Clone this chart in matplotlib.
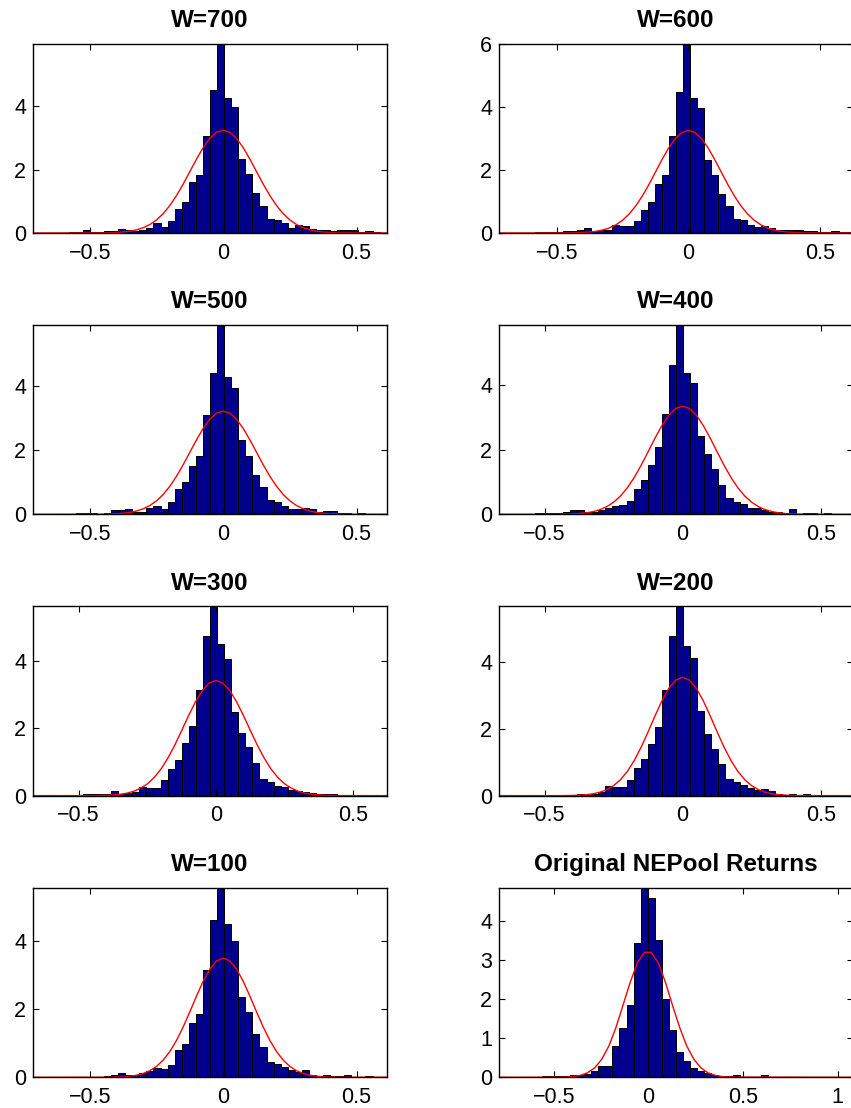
import numpy as np
import matplotlib
matplotlib.use("Agg")
import matplotlib.pyplot as plt
from matplotlib.ticker import FuncFormatter

plt.rcParams['font.family'] = ['Liberation Sans', 'DejaVu Sans']

# panel titles, in reading order (left, right per row)
titles = ["W=700", "W=600", "W=500", "W=400", "W=300", "W=200", "W=100",
          "Original NEPool Returns"]

# histogram range of each panel (50 equal bins between these)
hist_lo = [-0.712, -0.718, -0.712, -0.664, -0.665, -0.664, -0.712, -0.789]
hist_hi = [0.613, 0.624, 0.613, 0.616, 0.621, 0.616, 0.613, 1.080]

# bar heights (density), 50 bins per panel
h700 = [0.01, 0.01, 0.01, 0.0, 0.01, 0.02, 0.03, 0.085, 0.03, 0.04,
        0.05, 0.07, 0.14, 0.085, 0.05, 0.085, 0.16, 0.30, 0.19, 0.37,
        0.77, 0.97, 1.60, 1.82, 3.07, 4.50, 5.97, 4.24, 3.96, 2.32,
        1.86, 1.26, 0.84, 0.45, 0.40, 0.30, 0.17, 0.26, 0.21, 0.13,
        0.09, 0.08, 0.07, 0.09, 0.09, 0.08, 0.03, 0.06, 0.02, 0.01]
h600 = [0.01, 0.01, 0.01, 0.01, 0.01, 0.02, 0.03, 0.03, 0.03, 0.05,
        0.06, 0.08, 0.15, 0.07, 0.10, 0.10, 0.24, 0.22, 0.22, 0.37,
        0.72, 0.99, 1.56, 1.84, 3.08, 4.47, 6.02, 4.28, 3.98, 2.32,
        1.84, 1.23, 0.85, 0.45, 0.42, 0.27, 0.18, 0.21, 0.17, 0.10,
        0.10, 0.09, 0.08, 0.05, 0.07, 0.02, 0.02, 0.06, 0.02, 0.02]
h500 = [0.01, 0.01, 0.01, 0.02, 0.01, 0.01, 0.03, 0.04, 0.03, 0.02,
        0.03, 0.15, 0.15, 0.16, 0.06, 0.08, 0.20, 0.27, 0.18, 0.38,
        0.78, 1.01, 1.51, 1.82, 3.09, 4.42, 5.91, 4.29, 3.94, 2.33,
        1.81, 1.24, 0.85, 0.44, 0.37, 0.25, 0.17, 0.18, 0.21, 0.16,
        0.06, 0.11, 0.10, 0.03, 0.05, 0.02, 0.03, 0.02, 0.02, 0.02]
h400 = [0.01, 0.01, 0.01, 0.01, 0.02, 0.05, 0.03, 0.04, 0.03, 0.08,
        0.13, 0.13, 0.07, 0.08, 0.13, 0.21, 0.26, 0.29, 0.42, 0.79,
        1.06, 1.52, 2.07, 3.11, 4.62, 5.85, 4.37, 4.07, 2.43, 1.85,
        1.41, 0.91, 0.51, 0.38, 0.32, 0.21, 0.20, 0.13, 0.08, 0.06,
        0.03, 0.16, 0.01, 0.04, 0.04, 0.02, 0.03, 0.01, 0.01, 0.02]
h300 = [0.01, 0.01, 0.01, 0.01, 0.01, 0.01, 0.02, 0.04, 0.04, 0.04,
        0.04, 0.14, 0.06, 0.07, 0.12, 0.25, 0.23, 0.24, 0.47, 0.79,
        1.07, 1.55, 2.07, 3.13, 4.74, 5.61, 4.48, 4.06, 2.49, 1.85,
        1.43, 0.96, 0.49, 0.40, 0.29, 0.27, 0.17, 0.15, 0.12, 0.07,
        0.05, 0.06, 0.04, 0.02, 0.03, 0.01, 0.02, 0.01, 0.01, 0.01]
h200 = [0.0, 0.0, 0.0, 0.0, 0.01, 0.01, 0.01, 0.01, 0.02, 0.03,
        0.03, 0.06, 0.02, 0.04, 0.10, 0.29, 0.25, 0.25, 0.47, 0.84,
        1.09, 1.54, 2.07, 3.16, 4.80, 5.68, 4.48, 4.13, 2.54, 1.86,
        1.41, 0.94, 0.51, 0.41, 0.32, 0.24, 0.16, 0.21, 0.15, 0.06,
        0.01, 0.04, 0.01, 0.04, 0.01, 0.02, 0.01, 0.0, 0.0, 0.0]
h100 = [0.01, 0.02, 0.01, 0.0, 0.01, 0.01, 0.01, 0.01, 0.01, 0.01,
        0.04, 0.06, 0.12, 0.08, 0.07, 0.12, 0.19, 0.28, 0.24, 0.36,
        0.79, 0.97, 1.58, 1.85, 3.13, 4.60, 5.55, 4.48, 4.00, 2.35,
        1.92, 1.28, 0.90, 0.46, 0.38, 0.31, 0.22, 0.17, 0.20, 0.07,
        0.04, 0.07, 0.05, 0.03, 0.06, 0.02, 0.01, 0.03, 0.02, 0.01]
h_orig = [0.02, 0.02, 0.01, 0.01, 0.02, 0.02, 0.03, 0.03, 0.03, 0.04,
          0.06, 0.07, 0.08, 0.15, 0.30, 0.30, 0.79, 1.26, 1.85, 3.45,
          4.85, 4.60, 3.52, 2.00, 1.22, 0.66, 0.41, 0.24, 0.16, 0.12,
          0.05, 0.04, 0.03, 0.05, 0.02, 0.02, 0.01, 0.05, 0.01, 0.01,
          0.01, 0.01, 0.01, 0.01, 0.01, 0.01, 0.01, 0.01, 0.01, 0.01]
heights = [h700, h600, h500, h400, h300, h200, h100, h_orig]

# fitted normal curve (red)
curve_x = [-0.8, -0.45, -0.425, -0.4, -0.375, -0.35, -0.325, -0.3, -0.275,
           -0.25, -0.225, -0.2, -0.175, -0.15, -0.125, -0.1, -0.075, -0.05,
           -0.025, 0.0, 0.025, 0.05, 0.075, 0.1, 0.125, 0.15, 0.175, 0.2,
           0.225, 0.25, 0.275, 0.3, 0.325, 0.35, 0.375, 0.4, 0.425, 0.45, 0.8]
c700 = [0.0, 0.004, 0.008, 0.016, 0.031, 0.057, 0.099, 0.167, 0.267, 0.412,
        0.610, 0.866, 1.180, 1.542, 1.935, 2.329, 2.691, 2.983, 3.174, 3.240,
        3.174, 2.983, 2.691, 2.329, 1.935, 1.542, 1.180, 0.866, 0.610, 0.412,
        0.267, 0.167, 0.099, 0.057, 0.031, 0.016, 0.008, 0.004, 0.0]
c600 = [0.0, 0.004, 0.008, 0.016, 0.030, 0.055, 0.096, 0.162, 0.261, 0.405,
        0.602, 0.858, 1.173, 1.538, 1.935, 2.335, 2.702, 2.999, 3.193, 3.260,
        3.193, 2.999, 2.702, 2.335, 1.935, 1.538, 1.173, 0.858, 0.602, 0.405,
        0.261, 0.162, 0.096, 0.055, 0.030, 0.016, 0.008, 0.004, 0.0]
c500 = [0.0, 0.004, 0.009, 0.018, 0.033, 0.060, 0.103, 0.172, 0.274, 0.421,
        0.619, 0.875, 1.188, 1.547, 1.936, 2.325, 2.681, 2.968, 3.155, 3.220,
        3.155, 2.968, 2.681, 2.325, 1.936, 1.547, 1.188, 0.875, 0.619, 0.421,
        0.274, 0.172, 0.103, 0.060, 0.033, 0.018, 0.009, 0.004, 0.0]
c400 = [0.0, 0.003, 0.006, 0.012, 0.024, 0.045, 0.082, 0.142, 0.235, 0.373,
        0.566, 0.821, 1.141, 1.517, 1.931, 2.352, 2.742, 3.059, 3.268, 3.340,
        3.268, 3.059, 2.742, 2.352, 1.931, 1.517, 1.141, 0.821, 0.566, 0.373,
        0.235, 0.142, 0.082, 0.045, 0.024, 0.012, 0.006, 0.003, 0.0]
c300 = [0.0, 0.002, 0.005, 0.010, 0.020, 0.039, 0.072, 0.128, 0.216, 0.348,
        0.537, 0.791, 1.114, 1.499, 1.927, 2.367, 2.777, 3.112, 3.333, 3.410,
        3.333, 3.112, 2.777, 2.367, 1.927, 1.499, 1.114, 0.791, 0.537, 0.348,
        0.216, 0.128, 0.072, 0.039, 0.020, 0.010, 0.005, 0.002, 0.0]
c200 = [0.0, 0.001, 0.003, 0.006, 0.014, 0.028, 0.054, 0.101, 0.178, 0.299,
        0.479, 0.729, 1.056, 1.457, 1.913, 2.390, 2.841, 3.216, 3.463, 3.550,
        3.463, 3.216, 2.841, 2.390, 1.913, 1.457, 1.056, 0.729, 0.479, 0.299,
        0.178, 0.101, 0.054, 0.028, 0.014, 0.006, 0.003, 0.001, 0.0]
c100 = [0.0, 0.002, 0.003, 0.008, 0.016, 0.032, 0.061, 0.112, 0.193, 0.319,
        0.503, 0.755, 1.081, 1.475, 1.919, 2.380, 2.814, 3.171, 3.408, 3.490,
        3.408, 3.171, 2.814, 2.380, 1.919, 1.475, 1.081, 0.755, 0.503, 0.319,
        0.193, 0.112, 0.061, 0.032, 0.016, 0.008, 0.003, 0.002, 0.0]
curve_x_orig = [-0.789, -0.471, -0.434, -0.396, -0.359, -0.322, -0.284, -0.247,
                -0.209, -0.172, -0.135, -0.097, -0.060, -0.022, 0.015, 0.053,
                0.090, 0.127, 0.165, 0.202, 0.240, 0.277, 0.314, 0.352, 0.389,
                0.427, 1.080]
c_orig = [0.0, 0.002, 0.007, 0.020, 0.051, 0.116, 0.243, 0.463, 0.804, 1.275,
          1.842, 2.427, 2.918, 3.199, 3.199, 2.918, 2.427, 1.842, 1.275, 0.804,
          0.463, 0.243, 0.116, 0.051, 0.020, 0.007, 0.0]
curves_x = [curve_x] * 7 + [curve_x_orig]
curves_y = [c700, c600, c500, c400, c300, c200, c100, c_orig]

xticks = [[-0.5, 0, 0.5]] * 7 + [[-0.5, 0, 0.5, 1]]
yticks = [[0, 2, 4], [0, 2, 4, 6], [0, 2, 4], [0, 2, 4], [0, 2, 4],
          [0, 2, 4], [0, 2, 4], [0, 1, 2, 3, 4]]

fig = plt.figure(figsize=(8.51, 11.08), dpi=100)

lefts = [0.0391, 0.5867]
bottoms = [0.7897, 0.5358, 0.2819, 0.0277]
w, h = 0.4153, 0.1710


def fmt(v, pos):
    return ("%g" % v).replace("-", "\u2212")


for i in range(8):
    ax = fig.add_axes([lefts[i % 2], bottoms[i // 2], w, h])
    edges = np.linspace(hist_lo[i], hist_hi[i], 51)
    centers = (edges[:-1] + edges[1:]) / 2
    ax.bar(centers, heights[i], width=edges[1] - edges[0], color="#00008F",
           edgecolor="black", linewidth=0.7)
    ax.plot(curves_x[i], curves_y[i], color="red", lw=1.0)
    ax.set_xlim(hist_lo[i], hist_hi[i])
    ax.set_ylim(0, max(heights[i]))
    ax.set_xticks(xticks[i])
    ax.set_yticks(yticks[i])
    ax.xaxis.set_major_formatter(FuncFormatter(fmt))
    ax.yaxis.set_major_formatter(FuncFormatter(fmt))
    ax.tick_params(direction="in", top=True, right=True, length=4, width=0.8,
                   labelsize=15.5)
    ax.tick_params(axis="x", pad=7)
    ax.tick_params(axis="y", pad=5)
    for s in ax.spines.values():
        s.set_linewidth(1.0)
    ax.set_title(titles[i], fontsize=17.5, fontweight="bold", pad=12)

plt.savefig("out.png", dpi=100)
